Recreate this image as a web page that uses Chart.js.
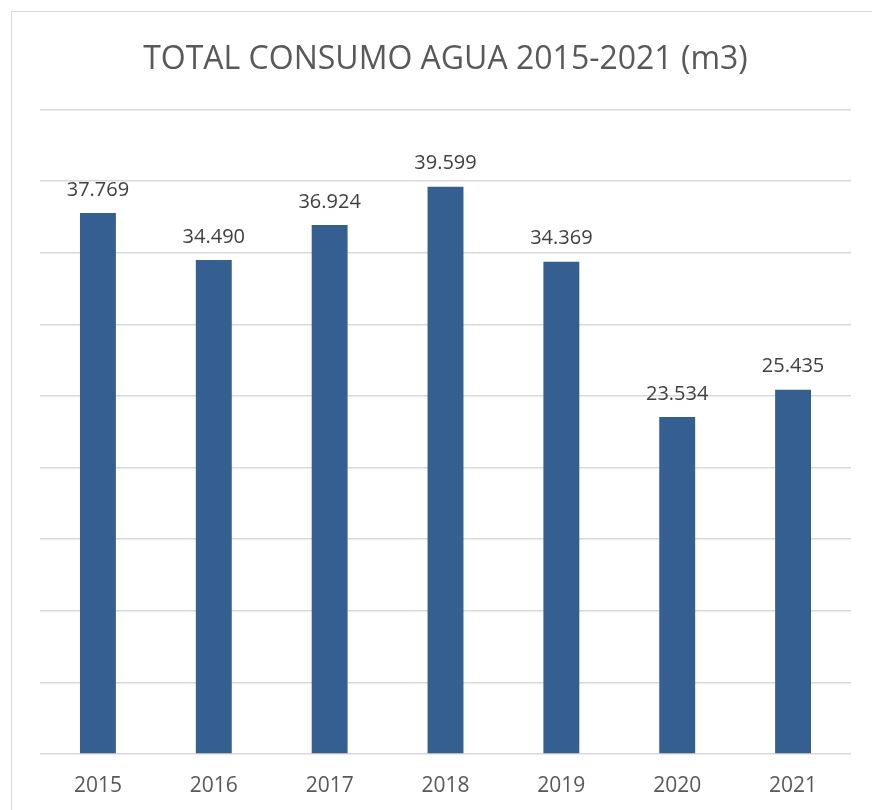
<!DOCTYPE html>
<html>
<head>
<meta charset="utf-8">
<script src="https://cdn.jsdelivr.net/npm/chart.js@4/dist/chart.umd.min.js"></script>
<style>
  html, body { margin: 0; padding: 0; background: #fff; }
  #wrap { position: relative; width: 872px; height: 810px; }
</style>
</head>
<body>
<div id="wrap"><canvas id="grafico" width="872" height="810"></canvas></div>
<script>
// datos del gráfico
const anios = ['2015', '2016', '2017', '2018', '2019', '2020', '2021'];
const consumo = [37769, 34490, 36924, 39599, 34369, 23534, 25435];
const titulo = 'TOTAL CONSUMO AGUA 2015-2021 (m3)';

const FUENTE = "'Open Sans', sans-serif";

// formato con punto de miles
const formato = v => String(v).replace(/\B(?=(\d{3})+(?!\d))/g, '.');

// marco gris alrededor del gráfico
const marco = {
    id: 'marco',
    beforeDraw(chart) {
        const ctx = chart.ctx;
        ctx.save();
        ctx.fillStyle = '#fff';
        ctx.fillRect(0, 0, chart.width, chart.height);
        ctx.strokeStyle = '#d9d9d9';
        ctx.lineWidth = 1;
        ctx.strokeRect(11.5, 11.5, 900, 900);
        ctx.restore();
    }
};

// etiquetas con el valor encima de cada barra
const etiquetas = {
    id: 'etiquetas',
    afterDatasetsDraw(chart) {
        const ctx = chart.ctx;
        const meta = chart.getDatasetMeta(0);
        ctx.save();
        ctx.font = '20px ' + FUENTE;
        ctx.fillStyle = '#404040';
        ctx.textAlign = 'center';
        ctx.textBaseline = 'bottom';
        meta.data.forEach((barra, i) => {
            ctx.fillText(formato(consumo[i]), barra.x, barra.y - 13);
        });
        ctx.restore();
    }
};

new Chart(document.getElementById('grafico'), {
    type: 'bar',
    data: {
        labels: anios,
        datasets: [{
            data: consumo,
            backgroundColor: '#365f91',
            categoryPercentage: 1,
            barPercentage: 0.31
        }]
    },
    options: {
        responsive: false,
        animation: false,
        layout: { padding: { left: 40, right: 21, top: 0, bottom: 0 } },
        plugins: {
            legend: { display: false },
            tooltip: { enabled: false },
            title: {
                display: true,
                text: titulo,
                color: '#595959',
                font: { family: FUENTE, size: 32, weight: 'normal', lineHeight: 1.2 },
                padding: { top: 41, bottom: 30 }
            }
        },
        scales: {
            x: {
                grid: { display: false, drawTicks: false },
                border: { display: false },
                afterFit: s => { s.height = 56; },
                ticks: {
                    color: '#595959',
                    font: { family: FUENTE, size: 21 },
                    padding: 19
                }
            },
            y: {
                min: 0,
                max: 45000,
                ticks: { display: false, stepSize: 5000 },
                grid: { color: '#d9d9d9', lineWidth: 1.5, drawTicks: false },
                border: { display: false }
            }
        }
    },
    plugins: [marco, etiquetas]
});
</script>
</body>
</html>
